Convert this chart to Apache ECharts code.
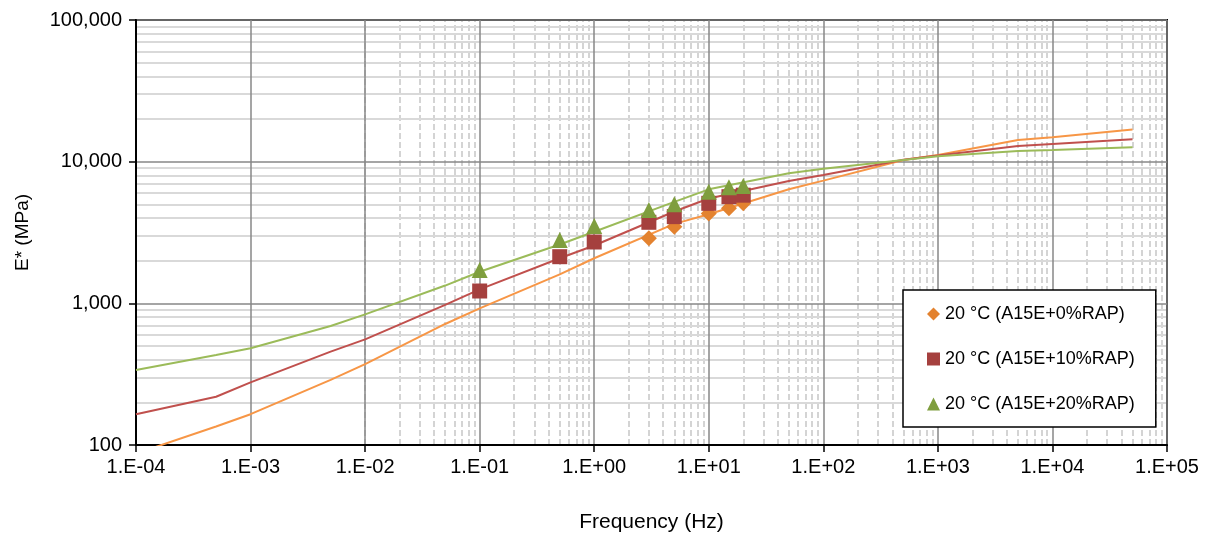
<!DOCTYPE html>
<html>
<head>
<meta charset="utf-8">
<script src="https://cdn.jsdelivr.net/npm/echarts@6/dist/echarts.min.js"></script>
<style>
html, body { margin: 0; padding: 0; background: #fff; }
#chart { width: 1206px; height: 539px; }
</style>
</head>
<body>
<div id="chart"></div>
<script>
// Master-curve frequencies (Hz) and fitted |E*| (MPa) for each mix
const curveFreq = [1e-4, 5e-4, 1e-3, 5e-3, 1e-2, 5e-2, 0.1, 0.5, 1, 5, 10, 50, 100, 500, 1000, 5000, 1e4, 5e4];
const curveRap0  = [87, 135, 165, 288, 372, 715, 922, 1600, 2080, 3640, 4250, 6380, 7345, 10280, 11150, 14200, 14860, 16900];
const curveRap10 = [165, 219, 277, 456, 557, 975, 1256, 2080, 2560, 4450, 5500, 7310, 8050, 10300, 11050, 12900, 13330, 14380];
const curveRap20 = [338, 432, 482, 692, 836, 1335, 1672, 2600, 3200, 5200, 6380, 8280, 8900, 10280, 10900, 11890, 12080, 12620];

// Measured |E*| at 20 °C
const testFreq0 = [3, 5, 10, 15, 20];
const testRap0  = [2878, 3475, 4315, 4690, 5080];
const testFreq  = [0.1, 0.5, 1, 3, 5, 10, 15, 20];
const testRap10 = [1222, 2134, 2710, 3733, 4093, 5080, 5660, 5800];
const testRap20 = [1718, 2800, 3515, 4560, 5000, 6140, 6590, 6730];

const seriesNames = ['20 °C (A15E+0%RAP)', '20 °C (A15E+10%RAP)', '20 °C (A15E+20%RAP)'];

// Decade ranges of the two log axes
const xDecades = [-4, 5];
const yDecades = [2, 5];

const pairs = (xs, ys) => xs.map((x, i) => [x, ys[i]]);

function minorValues(fromExp, toExp) {
  const out = [];
  for (let n = fromExp; n < toExp; n++) {
    for (let k = 2; k <= 9; k++) out.push(k * Math.pow(10, n));
  }
  return out;
}

const FONT = '"Liberation Sans", Arial, sans-serif';
const chart = echarts.init(document.getElementById('chart'), null, { renderer: 'canvas' });

const lineColors = ['#F79646', '#C0504D', '#9BBB59'];
const markColors = ['#E3822F', '#A5403E', '#7F9E3E'];

chart.setOption({
  animation: false,
  backgroundColor: '#fff',
  textStyle: { fontFamily: FONT },
  grid: {
    left: 136, right: 39, top: 20, bottom: 94,
    show: true, borderColor: '#000', borderWidth: 2, backgroundColor: 'transparent', z: 1
  },
  legend: {
    orient: 'vertical',
    left: 903, top: 290,
    padding: [14, 21, 13, 24],
    itemGap: 25,
    itemWidth: 13, itemHeight: 13,
    backgroundColor: '#fff',
    borderColor: '#000', borderWidth: 1.5,
    z: 10,
    textStyle: { fontSize: 18, color: '#000', fontFamily: FONT, lineHeight: 20 },
    data: [
      { name: seriesNames[0], icon: 'diamond' },
      { name: seriesNames[1], icon: 'rect' },
      { name: seriesNames[2], icon: 'triangle' }
    ]
  },
  xAxis: {
    type: 'log', logBase: 10,
    min: Math.pow(10, xDecades[0]), max: Math.pow(10, xDecades[1]),
    interval: 1,
    z: 1,
    name: 'Frequency (Hz)', nameLocation: 'middle', nameGap: 67,
    nameTextStyle: { fontSize: 21, color: '#000', fontFamily: FONT },
    axisLine: { show: true, lineStyle: { color: '#000', width: 2 } },
    axisTick: { show: true, inside: false, length: 7, lineStyle: { color: '#000', width: 1.5 } },
    axisLabel: {
      fontSize: 20, color: '#000', margin: 12, fontFamily: FONT,
      formatter: v => {
        const e = Math.round(Math.log10(v));
        return '1.E' + (e < 0 ? '-' : '+') + String(Math.abs(e)).padStart(2, '0');
      }
    },
    splitLine: { show: true, lineStyle: { color: '#878787', width: 1.5 } },
    minorTick: { show: false }, minorSplitLine: { show: false }
  },
  yAxis: {
    type: 'log', logBase: 10,
    min: Math.pow(10, yDecades[0]), max: Math.pow(10, yDecades[1]),
    interval: 1,
    z: 1,
    name: 'E* (MPa)', nameLocation: 'middle', nameGap: 104, nameRotate: 90,
    nameTextStyle: { fontSize: 19, color: '#000', fontFamily: FONT },
    axisLine: { show: true, lineStyle: { color: '#000', width: 2 } },
    axisTick: { show: true, inside: false, length: 7, lineStyle: { color: '#000', width: 1.5 } },
    axisLabel: {
      fontSize: 20, color: '#000', margin: 14, fontFamily: FONT,
      formatter: v => Math.round(v).toLocaleString('en-US')
    },
    splitLine: { show: true, lineStyle: { color: '#878787', width: 1.5 } },
    minorTick: { show: false }, minorSplitLine: { show: false }
  },
  series: [
    {
      // minor gridlines: dashed verticals, solid horizontals
      name: 'minor-grid',
      type: 'line', data: [], silent: true, z: 0,
      markLine: {
        silent: true, symbol: 'none', animation: false, z: 0,
        label: { show: false },
        emphasis: { disabled: true },
        data: [
          ...minorValues(xDecades[0], xDecades[1]).map(v => ({
            xAxis: v, lineStyle: { color: '#d4d4d4', width: 2, type: [6, 3] }
          })),
          ...minorValues(yDecades[0], yDecades[1]).map(v => ({
            yAxis: v, lineStyle: { color: '#d9d9d9', width: 2, type: 'solid' }
          }))
        ]
      }
    },
    ...[curveRap0, curveRap10, curveRap20].map((vals, i) => ({
      name: 'curve-' + i,
      type: 'line', z: 3,
      data: pairs(curveFreq, vals),
      showSymbol: false, symbol: 'none',
      clip: true,
      lineStyle: { color: lineColors[i], width: 2 },
      emphasis: { disabled: true }
    })),
    {
      name: seriesNames[0], type: 'scatter', z: 4,
      symbol: 'diamond', symbolSize: 16,
      itemStyle: { color: markColors[0], opacity: 1 },
      data: pairs(testFreq0, testRap0)
    },
    {
      name: seriesNames[1], type: 'scatter', z: 5,
      symbol: 'rect', symbolSize: 15,
      itemStyle: { color: markColors[1], opacity: 1 },
      data: pairs(testFreq, testRap10)
    },
    {
      name: seriesNames[2], type: 'scatter', z: 6,
      symbol: 'triangle', symbolSize: [16, 16],
      itemStyle: { color: markColors[2], opacity: 1 },
      data: pairs(testFreq, testRap20)
    }
  ]
});
</script>
</body>
</html>
